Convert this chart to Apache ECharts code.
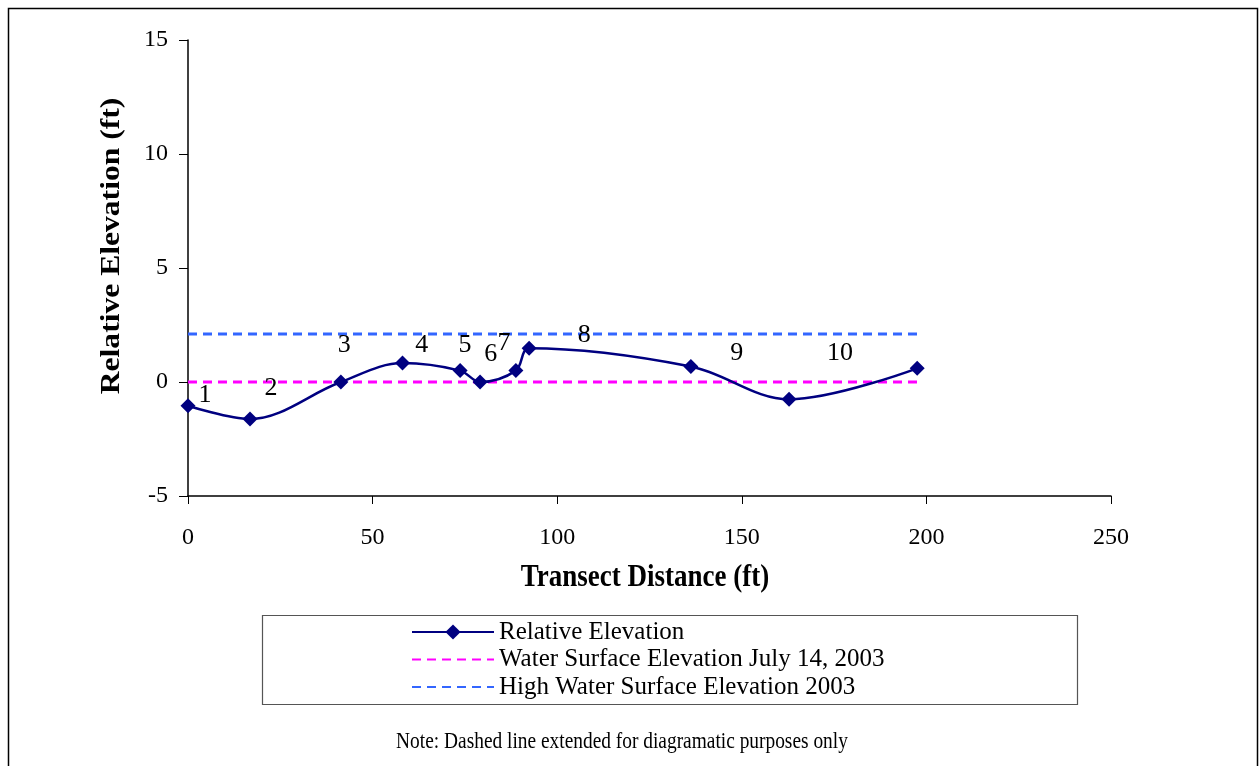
<!DOCTYPE html>
<html>
<head>
<meta charset="utf-8">
<script src="https://cdn.jsdelivr.net/npm/echarts@6/dist/echarts.min.js"></script>
<style>
html,body{margin:0;padding:0;background:#fff;}
#chart{width:1259px;height:766px;}
</style>
</head>
<body>
<div id="chart"></div>
<script>
// Relative elevation profile (distance ft, elevation ft)
const distance = [0, 16.8, 41.4, 58.1, 73.7, 79.1, 88.8, 92.4, 136.2, 162.8, 197.5];
const elevation = [-1.04, -1.62, 0.0, 0.83, 0.5, 0.0, 0.5, 1.48, 0.68, -0.76, 0.6];

// Water surface lines (start and end distance, elevation)
const waterX = [0, 197.5];
const waterJuly = 0;
const waterHigh = 2.1;

// Station labels and their positions in data units
const stationNames = ['1','2','3','4','5','6','7','8','9','10'];
const stationX = [4.6, 22.5, 42.3, 63.3, 75.0, 82.0, 85.6, 107.3, 148.6, 176.6];
const stationY = [-0.57, -0.26, 1.62, 1.62, 1.62, 1.23, 1.71, 2.06, 1.26, 1.26];

const xTicks = {min: 0, max: 250, interval: 50};
const yTicks = {min: -5, max: 15, interval: 5};

const seriesNames = ['Relative Elevation', 'Water Surface Elevation July 14, 2003', 'High Water Surface Elevation 2003'];
const xTitle = 'Transect Distance (ft)';
const yTitle = 'Relative Elevation (ft)';
const noteText = 'Note: Dashed line extended for diagramatic purposes only';

const FONT = '"Liberation Serif", "Times New Roman", serif';

const chart = echarts.init(document.getElementById('chart'));
chart.setOption({
  animation: false,
  backgroundColor: '#fff',
  grid: {left: 188, right: 148, top: 40, bottom: 270, containLabel: false},
  xAxis: {
    type: 'value', min: xTicks.min, max: xTicks.max, interval: xTicks.interval,
    axisLine: {show: true, onZero: false, lineStyle: {color: '#000', width: 1.5}},
    axisTick: {show: true, inside: false, length: 8, lineStyle: {color: '#000'}},
    axisLabel: {fontFamily: FONT, fontSize: 24, color: '#000', margin: 30, lineHeight: 24},
    splitLine: {show: false}
  },
  yAxis: {
    type: 'value', min: yTicks.min, max: yTicks.max, interval: yTicks.interval,
    axisLine: {show: true, onZero: false, lineStyle: {color: '#000', width: 1.5}},
    axisTick: {show: true, inside: false, length: 9, lineStyle: {color: '#000'}},
    axisLabel: {fontFamily: FONT, fontSize: 24, color: '#000', margin: 20},
    splitLine: {show: false}
  },
  legend: {
    orient: 'vertical', left: 411, top: 619.5,
    data: [
      {name: seriesNames[0]},
      {name: seriesNames[1], itemStyle: {opacity: 0}},
      {name: seriesNames[2], itemStyle: {opacity: 0}}
    ],
    itemWidth: 82, itemHeight: 19, itemGap: 2.5,
    textStyle: {fontFamily: FONT, fontSize: 25, color: '#000', lineHeight: 25},
    padding: 0
  },
  graphic: [
    {type: 'rect', shape: {x: 8.5, y: 8.5, width: 1249, height: 800}, style: {fill: 'none', stroke: '#000', lineWidth: 1.5}, silent: true, z: -1},
    {type: 'rect', shape: {x: 262.5, y: 615.5, width: 815, height: 89}, style: {fill: 'none', stroke: '#555', lineWidth: 1.2}, silent: true},
    {type: 'text', x: 645, y: 578, scaleY: 1.17, style: {x: 0, y: 0, text: xTitle, font: 'bold 27px ' + FONT, fill: '#000', align: 'center', verticalAlign: 'middle'}},
    {type: 'text', x: 112, y: 246, rotation: Math.PI / 2, scaleX: 1.17, style: {x: 0, y: 0, text: yTitle, font: 'bold 27px ' + FONT, fill: '#000', align: 'center', verticalAlign: 'middle'}},
    {type: 'text', x: 622, y: 742, scaleY: 1.17, style: {x: 0, y: 0, text: noteText, font: '19.4px ' + FONT, fill: '#000', align: 'center', verticalAlign: 'middle'}}
  ],
  series: [
    {
      name: seriesNames[0], type: 'line',
      data: distance.map((d, i) => [d, elevation[i]]),
      smooth: 0.35,
      symbol: 'diamond', symbolSize: 15,
      lineStyle: {color: '#000080', width: 2.5},
      itemStyle: {color: '#000080'},
      z: 5
    },
    {
      name: seriesNames[1], type: 'line',
      data: waterX.map(x => [x, waterJuly]),
      symbol: 'none',
      lineStyle: {color: '#FF00FF', width: 3, type: [9, 6]},
      itemStyle: {color: '#FF00FF'},
      z: 3
    },
    {
      name: seriesNames[2], type: 'line',
      data: waterX.map(x => [x, waterHigh]),
      symbol: 'none',
      lineStyle: {color: '#3366FF', width: 3, type: [9, 6]},
      itemStyle: {color: '#3366FF'},
      z: 3
    },
    {
      name: 'Stations', type: 'scatter',
      data: stationX.map((x, i) => ({value: [x, stationY[i]], name: stationNames[i]})),
      symbolSize: 0,
      itemStyle: {opacity: 1},
      label: {show: true, position: 'inside', formatter: p => p.name, fontFamily: FONT, fontSize: 26, color: '#000', opacity: 1},
      silent: true,
      z: 6
    }
  ]
});
</script>
</body>
</html>
